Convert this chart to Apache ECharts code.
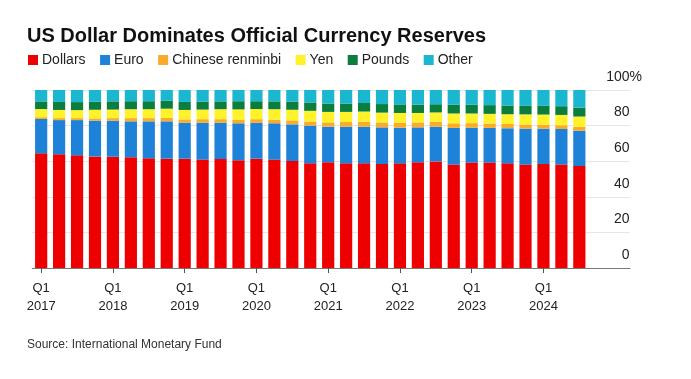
<!DOCTYPE html>
<html>
<head>
<meta charset="utf-8">
<script src="https://cdn.jsdelivr.net/npm/echarts@6/dist/echarts.min.js"></script>
<style>
  html, body { margin: 0; padding: 0; background: #ffffff; }
  #chart { width: 691px; height: 379px; }
</style>
</head>
<body>
<div id="chart"></div>
<script>
const categories = [
  'Q1 2017','Q2 2017','Q3 2017','Q4 2017',
  'Q1 2018','Q2 2018','Q3 2018','Q4 2018',
  'Q1 2019','Q2 2019','Q3 2019','Q4 2019',
  'Q1 2020','Q2 2020','Q3 2020','Q4 2020',
  'Q1 2021','Q2 2021','Q3 2021','Q4 2021',
  'Q1 2022','Q2 2022','Q3 2022','Q4 2022',
  'Q1 2023','Q2 2023','Q3 2023','Q4 2023',
  'Q1 2024','Q2 2024','Q3 2024'
];
const dollars = [64.4,63.9,63.3,62.7, 62.5,62.2,61.6,61.4, 61.4,60.9,61.2,60.5, 61.4,60.9,60.1,58.8, 59.4,58.8,58.8,58.4, 58.8,59.4,59.9,58.1, 59.2,59.2,58.8,58.1, 58.4,58.1,57.3];
const euro    = [19.3,19.2,19.8,20.1, 20.3,20.2,20.8,21.0, 20.2,20.7,20.4,20.8, 20.2,20.4,20.6,21.2, 20.0,20.6,20.6,20.6, 20.0,19.6,19.5,20.6, 19.6,19.5,19.7,20.2, 19.9,20.0,19.8];
const renminbi= [1.0,1.1,1.1,1.2, 1.4,1.8,1.8,1.9, 1.9,2.0,2.0,1.9, 2.0,2.1,2.2,2.3, 2.4,2.6,2.7,2.8, 2.9,2.8,2.7,2.6, 2.6,2.5,2.4,2.3, 2.2,2.1,2.2];
const yen     = [4.6,4.6,4.5,4.9, 4.8,5.0,5.0,5.2, 5.3,5.4,5.6,5.9, 5.7,5.8,6.0,6.0, 5.9,5.7,5.8,5.5, 5.4,5.3,5.3,5.5, 5.4,5.4,5.5,5.7, 5.7,5.8,5.8];
const pounds  = [4.3,4.5,4.5,4.5, 4.6,4.5,4.5,4.4, 4.5,4.5,4.4,4.6, 4.4,4.4,4.6,4.7, 4.7,4.7,4.8,4.8, 4.8,4.7,4.6,4.9, 4.9,4.9,4.9,4.8, 4.9,4.9,5.0];
const other   = [6.4,6.7,6.8,6.6, 6.4,6.3,6.3,6.1, 6.7,6.5,6.4,6.3, 6.3,6.4,6.5,7.0, 7.6,7.6,7.3,7.9, 8.1,8.2,8.0,8.3, 8.3,8.5,8.7,8.9, 8.9,9.1,9.9];
const yTicks = [0, 20, 40, 60, 80, 100];

const seriesDefs = [
  { name: 'Dollars', data: dollars, color: '#EE0000' },
  { name: 'Euro', data: euro, color: '#1E83D8' },
  { name: 'Chinese renminbi', data: renminbi, color: '#F9AB2A' },
  { name: 'Yen', data: yen, color: '#FFF22A' },
  { name: 'Pounds', data: pounds, color: '#0B7D3E' },
  { name: 'Other', data: other, color: '#1BB6CF' }
];

const FONT = '"Liberation Sans", Arial, sans-serif';
const chart = echarts.init(document.getElementById('chart'), null, { renderer: 'canvas' });
const isQ1 = (idx, val) => String(val).indexOf('Q1') === 0;

chart.setOption({
  animation: false,
  backgroundColor: '#ffffff',
  title: {
    text: 'US Dollar Dominates Official Currency Reserves',
    left: 22, top: 21,
    textStyle: { fontFamily: FONT, fontSize: 20, fontWeight: 'bold', color: '#111111' }
  },
  legend: {
    left: 23, top: 48,
    icon: 'rect', itemWidth: 10, itemHeight: 10, itemGap: 14.5,
    textStyle: { fontFamily: FONT, fontSize: 14, color: '#222222', padding: [0, 0, 0, -1] },
    data: seriesDefs.map(s => s.name)
  },
  grid: [
    { left: 32.2, right: 691 - 588.3, top: 90, bottom: 111, containLabel: false },
    { left: 32.2, right: 691 - 630, top: 90, bottom: 111, containLabel: false }
  ],
  xAxis: [
    {
      type: 'category', gridIndex: 0, data: categories,
      axisLine: { show: false },
      axisTick: { show: true, interval: isQ1, alignWithLabel: true, length: 5, lineStyle: { color: '#555555', width: 1 } },
      axisLabel: {
        interval: isQ1, margin: 11,
        fontFamily: FONT, fontSize: 13, color: '#222222', lineHeight: 18,
        formatter: v => v.replace(' ', '\n')
      },
      splitLine: { show: false }
    },
    {
      type: 'value', gridIndex: 1, min: 0, max: 1,
      axisLine: { show: true, onZero: false, lineStyle: { color: '#777777', width: 1 } },
      axisTick: { show: false }, axisLabel: { show: false }, splitLine: { show: false }
    }
  ],
  yAxis: [
    { type: 'value', gridIndex: 0, min: 0, max: 100, interval: 20, show: false },
    {
      type: 'value', gridIndex: 1, position: 'right', min: 0, max: 100, interval: 20,
      axisLine: { show: false }, axisTick: { show: false },
      splitLine: { show: true, lineStyle: { color: '#E6E6E6', width: 1 } },
      axisLabel: {
        show: true, margin: 12, align: 'right', verticalAlign: 'bottom',
        padding: [0, 0, 6, 0], lineHeight: 14,
        fontFamily: FONT, fontSize: 14, color: '#222222',
        customValues: yTicks,
        formatter: v => v === 100 ? '100%' : v + '{h|%}',
        rich: { h: { color: 'rgba(0,0,0,0)', fontFamily: FONT, fontSize: 14 } }
      }
    }
  ],
  series: seriesDefs.map(s => ({
    name: s.name, type: 'bar', stack: 'total',
    xAxisIndex: 0, yAxisIndex: 0,
    data: s.data,
    barCategoryGap: '32%',
    itemStyle: { color: s.color },
    emphasis: { disabled: true }
  })).concat([{
    type: 'line', xAxisIndex: 1, yAxisIndex: 1, data: [], silent: true
  }]),
  graphic: [{
    type: 'text', left: 27, top: 339,
    style: { text: 'Source: International Monetary Fund', fontFamily: FONT, fontSize: 12, fill: '#333333' }
  }]
});
</script>
</body>
</html>
